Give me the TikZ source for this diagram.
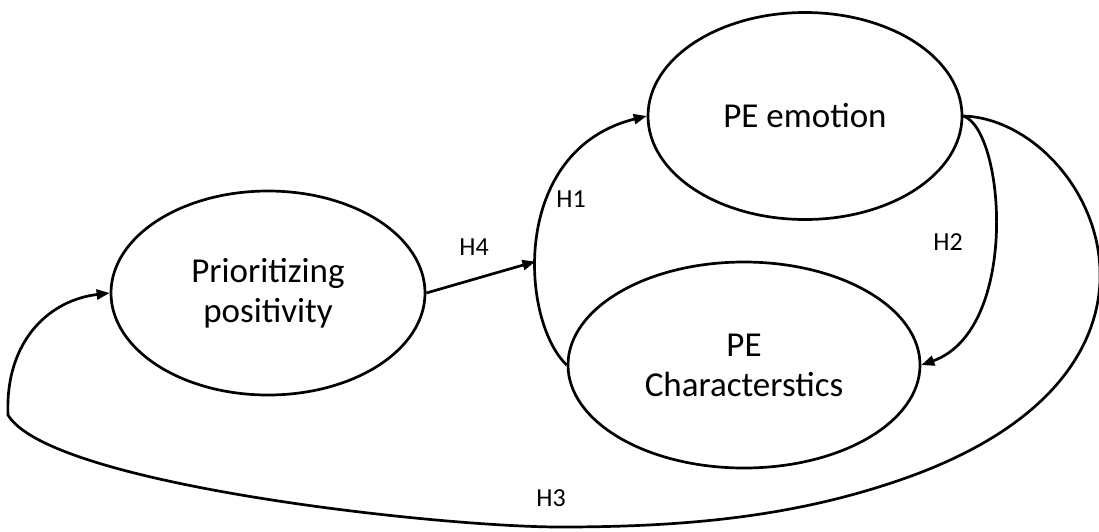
\documentclass[tikz,border=0pt]{standalone}
\usepackage{fontspec}
\setmainfont{Carlito}
\usetikzlibrary{shapes.geometric,arrows.meta}
\begin{document}
\begin{tikzpicture}[x=1pt, y=-1pt, line width=2.7pt,
  >={Triangle[length=13pt,width=10pt]},
  latent/.style={draw, ellipse, inner sep=0pt, align=center,
    font=\fontsize{35}{40}\selectfont},
  hyp/.style={font=\fontsize{26}{30}\selectfont}]

\useasboundingbox (0,0) rectangle (1099,531);

\node[latent, minimum width=314pt, minimum height=204pt] (prio) at (268,293) {Prioritizing\\positivity};
\node[latent, minimum width=314pt, minimum height=207pt] (emo) at (805,116) {PE emotion};
\node[latent, minimum width=352pt, minimum height=206pt] (chr) at (744,365) {PE\\Characterstics};

\node[hyp] (h1) at (571,199) {H1};
\node[hyp] (h2) at (948,242) {H2};
\node[hyp] (h3) at (551,498) {H3};
\node[hyp] (h4) at (474,247) {H4};

\draw[->] (chr.west) .. controls (520,320) and (510,150) .. (emo.west) coordinate[pos=0.42] (meet);
\draw[->] (prio.east) -- (meet);
\draw[->] (emo.east) .. controls (1005,130) and (1020,330) .. (chr.east);
\draw[->] (emo.east) .. controls (1090,120) and (1220,370) .. (900,480)
  .. controls (790,518) and (680,527) .. (560,527)
  .. controls (440,527) and (50,485) .. (8,415)
  .. controls (5,340) and (50,300) .. (prio.west);

\end{tikzpicture}
\end{document}
